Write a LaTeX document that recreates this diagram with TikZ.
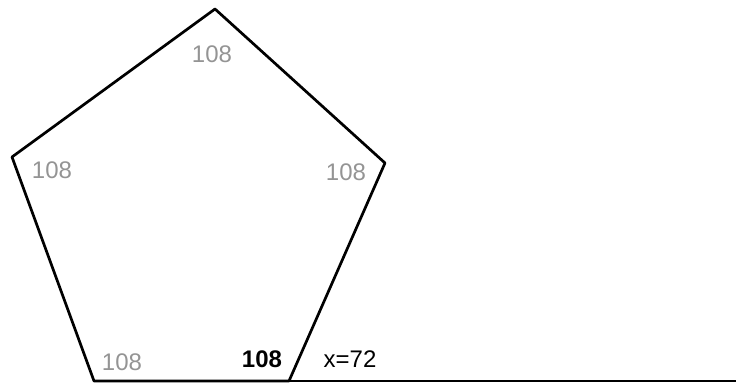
\documentclass[tikz,border=0pt]{standalone}
\usepackage{fontspec}
\setmainfont{Liberation Sans}
\begin{document}
\begin{tikzpicture}[x=1pt,y=-1pt,
  edge/.style={line width=2.7pt,line join=round,line cap=round},
  angle/.style={text=black!42,font=\fontsize{24}{26}\selectfont,inner sep=0pt},
  blacklabel/.style={text=black,font=\fontsize{24}{26}\selectfont,inner sep=0pt}]
\useasboundingbox (0,0) rectangle (736,385);
\coordinate (T) at (215,9);
\coordinate (R) at (385,163);
\coordinate (BR) at (289,381);
\coordinate (BL) at (94,381);
\coordinate (L) at (12,157);
\coordinate (E) at (736,381);
\draw[edge] (T) -- (R) -- (BR) -- (BL) -- (L) -- cycle;
\draw[edge] (BR) -- (E);
\node[angle] (a1) at (212,54) {108};
\node[angle] (a2) at (52,170) {108};
\node[angle] (a3) at (346,172) {108};
\node[angle] (a4) at (122,362) {108};
\node[blacklabel,font=\fontsize{24}{26}\selectfont\bfseries] (a5) at (262,359) {108};
\node[blacklabel] (x) at (350,359) {x=72};
\end{tikzpicture}
\end{document}
